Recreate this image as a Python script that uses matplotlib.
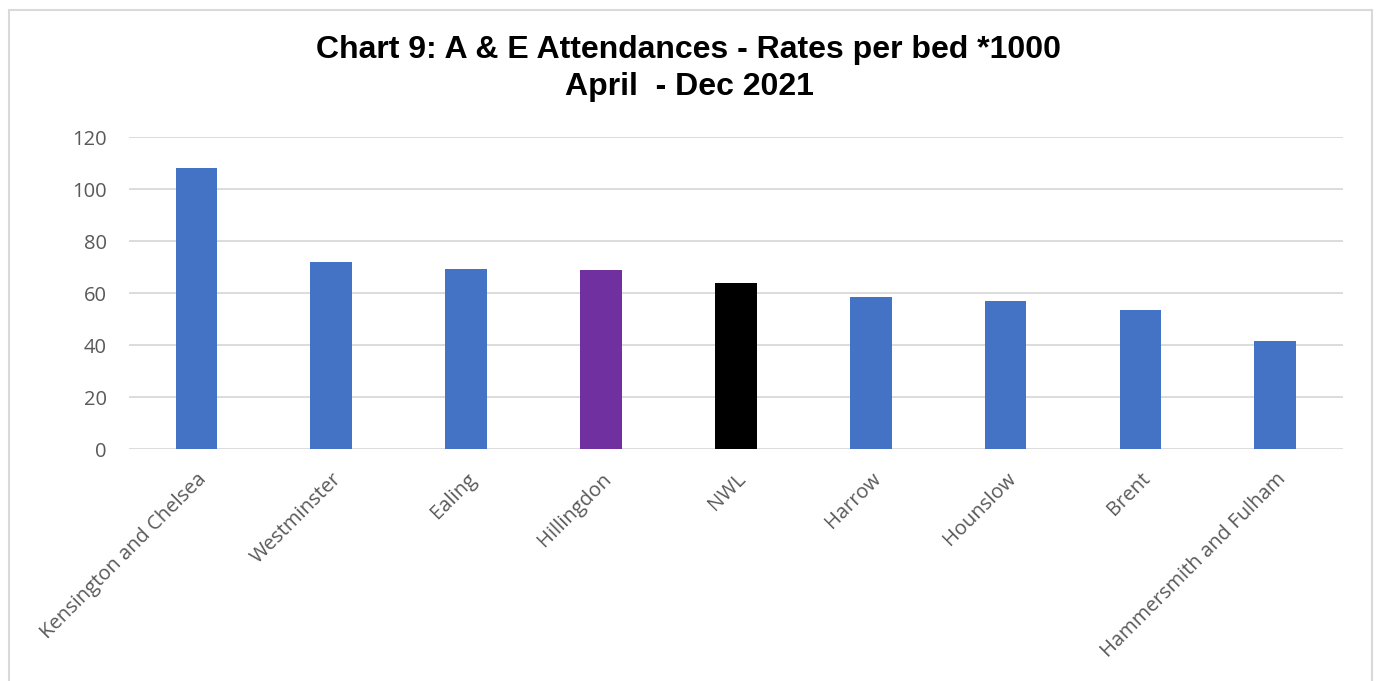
import matplotlib.pyplot as plt
from matplotlib.patches import Rectangle

areas = ["Kensington and Chelsea", "Westminster", "Ealing", "Hillingdon", "NWL",
         "Harrow", "Hounslow", "Brent", "Hammersmith and Fulham"]
rates = [108.0, 72.0, 69.4, 69.0, 64.0, 58.7, 57.1, 53.5, 41.6]
bar_colours = ["#4472C4", "#4472C4", "#4472C4", "#7030A0", "#000000",
               "#4472C4", "#4472C4", "#4472C4", "#4472C4"]
y_ticks = [0, 20, 40, 60, 80, 100, 120]

fig = plt.figure(figsize=(13.78, 6.81), dpi=100)
ax = fig.add_axes([0.0936, 0.340, 0.8808, 0.4585])

# chart frame
fig.patches.append(Rectangle((9 / 1378, -0.05), (1372 - 9) / 1378, 1.05 - 10 / 681,
                             transform=fig.transFigure, fill=False,
                             edgecolor="#d9d9d9", linewidth=1.5))

x = range(len(areas))
ax.bar(x, rates, width=0.31, color=bar_colours, zorder=3)

ax.set_xlim(-0.5, len(areas) - 0.5)
ax.set_ylim(0, 120)
ax.set_yticks(y_ticks)
ax.yaxis.grid(True, color="#d9d9d9", linewidth=1.3, zorder=0)
ax.set_axisbelow(True)
for s in ax.spines.values():
    s.set_visible(False)

ax.tick_params(axis="both", length=0, labelsize=14.5, labelcolor="#595959")
ax.tick_params(axis="y", pad=16)
ax.set_xticks(list(x))
ax.set_xticklabels(areas, rotation=45, ha="right", rotation_mode="anchor",
                   fontfamily="Open Sans")
for lab in ax.get_yticklabels():
    lab.set_fontfamily("Open Sans")
ax.tick_params(axis="x", pad=14)

title_kw = dict(ha="center", va="center", fontsize=23, fontweight="bold",
                fontfamily="Liberation Sans")
fig.text(0.5, 1 - 50 / 681, "Chart 9: A & E Attendances - Rates per bed *1000", **title_kw)
fig.text(0.5, 1 - 87 / 681, "April  - Dec 2021", **title_kw)

fig.savefig("out.png", dpi=100)
